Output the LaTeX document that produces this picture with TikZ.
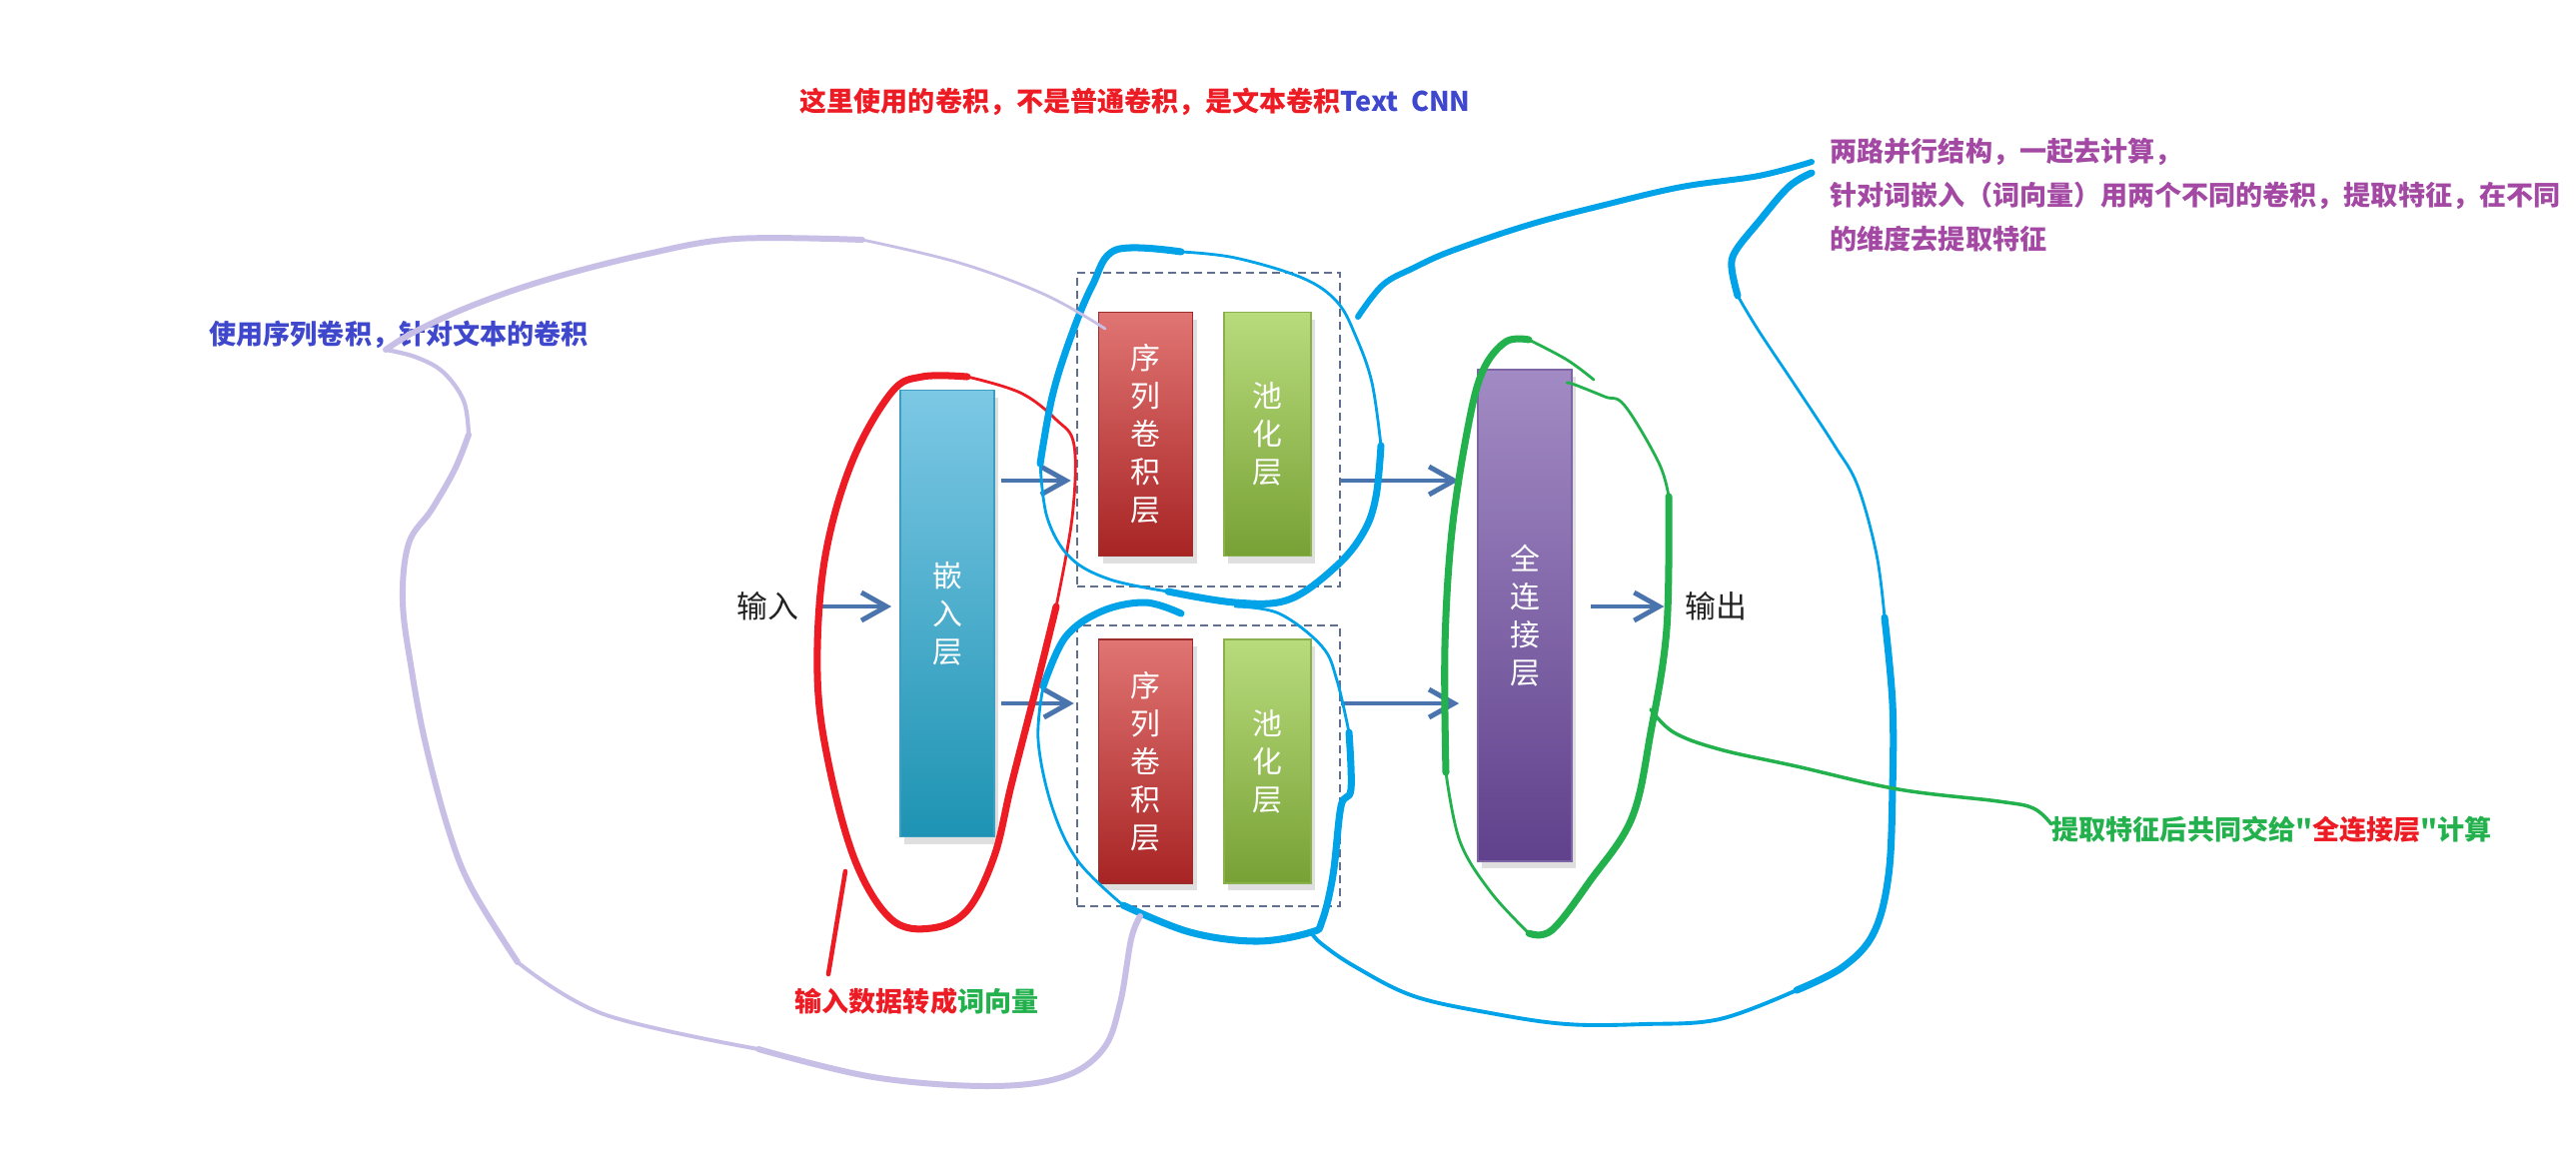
\documentclass[tikz,border=0pt]{standalone}
\usepackage{fontspec}
\setmainfont{Noto Sans CJK SC}[Ligatures=TeXOff]
\usetikzlibrary{arrows.meta, shadows}
\definecolor{cnInk}{HTML}{222222}
\definecolor{cnRed}{HTML}{ED1C24}
\definecolor{cnTxtBlue}{HTML}{3F48CC}
\definecolor{cnPurple}{HTML}{A349A4}
\definecolor{cnGreen}{HTML}{22B14C}
\definecolor{cnSky}{HTML}{00A2E8}
\definecolor{cnLav}{HTML}{C8BFE7}
\definecolor{cnArrow}{HTML}{4A74AE}
\definecolor{cnGrp}{HTML}{61708F}
\definecolor{cnEmbT}{HTML}{7CC8E5}
\definecolor{cnEmbB}{HTML}{1E93B3}
\definecolor{cnEmbD}{HTML}{3C9FC0}
\definecolor{cnConvT}{HTML}{E07573}
\definecolor{cnConvB}{HTML}{A82424}
\definecolor{cnConvD}{HTML}{9B2D2A}
\definecolor{cnPoolT}{HTML}{B8DB7C}
\definecolor{cnPoolB}{HTML}{77A135}
\definecolor{cnPoolD}{HTML}{8AB14C}
\definecolor{cnFcT}{HTML}{A28BC4}
\definecolor{cnFcB}{HTML}{60418C}
\definecolor{cnFcD}{HTML}{7E65A3}
\tikzset{
  layer/.style={
    line width=0.5pt, inner sep=0pt, align=center, minimum width=9.4mm,
    font=\fontsize{8.5}{10.8}\selectfont, text=white,
    drop shadow={opacity=0.25, shadow xshift=0.4mm, shadow yshift=-0.7mm}
  },
  embed/.style={layer, draw=cnEmbD, top color=cnEmbT, bottom color=cnEmbB, minimum height=44.7mm},
  conv/.style={layer, draw=cnConvD, top color=cnConvT, bottom color=cnConvB, minimum height=24.4mm},
  pool/.style={layer, draw=cnPoolD, top color=cnPoolT, bottom color=cnPoolB, minimum width=8.7mm, minimum height=24.4mm},
  fc/.style={layer, draw=cnFcD, top color=cnFcT, bottom color=cnFcB, minimum height=49.2mm},
  grp/.style={draw=cnGrp, line width=0.7pt, dash pattern=on 0.8mm off 0.5mm, minimum width=26.3mm, inner sep=0pt},
  flow/.style={-{Straight Barb[length=2.5mm, width=2.8mm]}, line width=1.4pt, draw=cnArrow},
  word/.style={font=\fontsize{8.8}{10}\selectfont, text=cnInk, inner sep=0pt},
  note/.style={font=\bfseries\fontsize{7.7}{12.5}\selectfont, anchor=west, inner sep=0pt, align=left},
  pen/.style={line cap=round, line join=round, line width=0.8pt},
  penb/.style={pen, line width=2pt},
}

\begin{document}
\begin{tikzpicture}[x=0.1mm, y=-0.1mm]
  \fill[white] (0,0) rectangle (2578,1167);
  \useasboundingbox (0,0) rectangle (2578,1167);

  % layers
  \node[embed] (emb) at (948,614) {嵌\\入\\层};
  \node[grp, minimum height=31.4mm] (g1) at (1209.5,430) {};
  \node[grp, minimum height=28.1mm] (g2) at (1209.5,766.5) {};
  \node[conv] (cv1) at (1146.5,434.5) {序\\列\\卷\\积\\层};
  \node[pool] (pl1) at (1268.5,434.5) {池\\化\\层};
  \node[conv] (cv2) at (1146.5,762) {序\\列\\卷\\积\\层};
  \node[pool] (pl2) at (1268.5,762) {池\\化\\层};
  \node[fc] (fc) at (1526,616) {全\\连\\接\\层};
  \node[word] (inp) at (768,607) {输入};
  \node[word] (outp) at (1717,607) {输出};

  \coordinate (rowA) at (0,481);
  \coordinate (rowB) at (0,704);
  \draw[flow, shorten <=2.3mm, shorten >=0.8mm] (inp) -- (inp -| emb.west);
  \draw[flow, shorten <=0.6mm, shorten >=0.5mm] (emb.east |- rowA) -- (g1.west |- rowA);
  \draw[flow, shorten <=0.6mm, shorten >=0.2mm] (emb.east |- rowB) -- (g2.west |- rowB);
  \draw[flow, shorten >=1.8mm] (g1.east |- rowA) -- (fc.west |- rowA);
  \draw[flow, shorten >=1.8mm] (g2.east |- rowB) -- (fc.west |- rowB);
  \draw[flow, shorten <=1.8mm, shorten >=2mm] (fc.east |- outp) -- (outp.west);

  % notes
  \node[note, text=cnTxtBlue] (nTop) at (800,102)
    {{\color{cnRed}这里使用的卷积，不是普通卷积，是文本卷积}Text\ \ CNN};
  \node[note, text=cnTxtBlue] (nLeft) at (209,335) {使用序列卷积，针对文本的卷积};
  \node[note, text=cnPurple] (nRight) at (1831,195)
    {两路并行结构，一起去计算，\\针对词嵌入（词向量）用两个不同的卷积，提取特征，在不同\\的维度去提取特征};
  \node[note, text=cnGreen] (nFc) at (2053,830)
    {提取特征后共同交给"{\color{cnRed}全连接层}"计算};
  \node[note, text=cnRed] (nEmb) at (795,1002) {输入数据转成{\color{cnGreen}词向量}};

  % red ring
  \draw[penb, cnRed] plot[smooth, tension=0.6] coordinates {(1057,607) (1035,696) (1012,786) (995,857) (968,911) (932,929) (892,920) (856,862) (829,763) (818,674) (825,562) (852,464) (892,393) (923,377) (968,377)};
  \draw[pen, cnRed] plot[smooth, tension=0.6] coordinates {(968,377) (1021,393) (1057,420) (1075,446) (1073,518) (1057,607)};
  \draw[pen, cnRed, line width=1.3pt] (846,872) -- (829,975);

  % blue rings
  \draw[penb, cnSky] plot[smooth, tension=0.6] coordinates {(1182,252) (1117,250) (1093,286) (1071,339) (1053,397) (1041,464)};
  \draw[pen, cnSky] plot[smooth, tension=0.6] coordinates {(1041,464) (1048,518) (1071,558) (1111,580) (1169,592)};
  \draw[penb, cnSky] plot[smooth, tension=0.6] coordinates {(1169,592) (1236,603) (1290,600) (1338,566) (1365,532) (1377,497) (1382,446)};
  \draw[pen, cnSky] plot[smooth, tension=0.6] coordinates {(1382,446) (1373,383) (1357,337) (1338,302) (1303,278) (1236,258) (1182,252)};
  \draw[penb, cnSky] plot[smooth, tension=0.6] coordinates {(1182,614) (1146,603) (1102,612) (1066,638) (1044,687)};
  \draw[pen, cnSky] plot[smooth, tension=0.6] coordinates {(1044,687) (1039,741) (1053,808) (1079,862) (1124,906)};
  \draw[penb, cnSky] plot[smooth, tension=0.6] coordinates {(1124,906) (1191,933) (1258,942) (1312,933) (1323,922) (1334,876) (1342,807) (1352,790) (1350,733)};
  \draw[pen, cnSky] plot[smooth, tension=0.6] coordinates {(1350,733) (1338,681) (1323,647) (1280,614) (1236,607)};
  \draw[pen, cnSky, line width=1.1pt] plot[smooth, tension=0.6] coordinates {(1312,933) (1323,945) (1357,968) (1415,997) (1492,1014) (1568,1025) (1645,1025) (1721,1020) (1798,991)};
  \draw[penb, cnSky] plot[smooth, tension=0.6] coordinates {(1798,991) (1844,968) (1875,934) (1890,876) (1894,790) (1894,704) (1886,618)};
  \draw[pen, cnSky] plot[smooth, tension=0.6] coordinates {(1886,618) (1878,555) (1859,486) (1836,446) (1798,388) (1760,331) (1739,296)};
  \draw[penb, cnSky] plot[smooth, tension=0.6] coordinates {(1739,296) (1733,268) (1737,251) (1760,222) (1790,187) (1813,173)};
  \draw[penb, cnSky, line width=1.7pt] plot[smooth, tension=0.6] coordinates {(1359,317) (1384,285) (1415,268) (1453,251) (1530,225) (1606,205) (1683,187) (1760,176) (1813,162)};

  % green ring
  \draw[pen, cnGreen] plot[smooth, tension=0.6] coordinates {(1595,380) (1568,360) (1530,340)};
  \draw[penb, cnGreen] plot[smooth, tension=0.6] coordinates {(1530,340) (1507,342) (1484,371) (1469,428) (1453,532) (1446,647) (1447,773)};
  \draw[pen, cnGreen] plot[smooth, tension=0.6] coordinates {(1447,773) (1461,842) (1492,893) (1530,934)};
  \draw[penb, cnGreen] plot[smooth, tension=0.6] coordinates {(1530,934) (1553,931) (1591,882) (1633,819) (1652,733) (1668,629) (1670,497)};
  \draw[pen, cnGreen] plot[smooth, tension=0.6] coordinates {(1670,497) (1660,463) (1626,406) (1606,397) (1576,385) (1568,383)};
  \draw[pen, cnGreen, line width=1pt] plot[smooth, tension=0.6] coordinates {(1652,710) (1675,733) (1721,750) (1798,767) (1900,790) (2000,802) (2035,809) (2053,825)};

  % lavender ring
  \draw[pen, cnLav] plot[smooth, tension=0.6] coordinates {(1106,329) (1046,295) (960,263) (863,240)};
  \draw[pen, cnLav, line width=1.7pt] plot[smooth, tension=0.6] coordinates {(863,240) (736,239) (644,255) (547,280) (472,306) (415,332) (386,350)};
  \draw[pen, cnLav, line width=1.2pt] plot[smooth, tension=0.6] coordinates {(386,350) (415,357) (443,372) (464,401) (469,435)};
  \draw[pen, cnLav, line width=1.7pt] plot[smooth, tension=0.6] coordinates {(469,435) (455,470) (432,510) (409,544) (403,602) (412,671) (426,745) (449,831) (472,889) (518,963)};
  \draw[pen, cnLav, line width=1.1pt] plot[smooth, tension=0.6] coordinates {(518,963) (604,1015) (759,1050)};
  \draw[pen, cnLav, line width=1.7pt] plot[smooth, tension=0.6] coordinates {(759,1050) (874,1078) (989,1087) (1063,1078) (1104,1050) (1121,1004) (1132,940) (1141,917)};
\end{tikzpicture}
\end{document}
